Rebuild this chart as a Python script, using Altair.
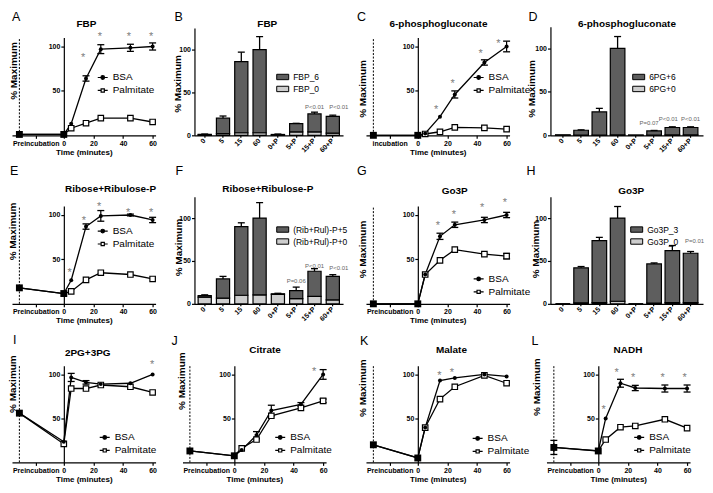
import altair as alt
import pandas as pd

FONT = "Liberation Sans"
DARK = "#5e5e5e"
LIGHT = "#cdcdcd"
STAR = "#808080"
PCOL = "#666666"

# ---------------- data ----------------
times = [-30, 0, 5, 15, 25, 45, 60]
cats = ["0", "5", "15", "60", "0+P", "5+P", "15+P", "60+P"]

# A  FBP (time course)
A_bsa = [1, 1, 13, 64, 97, 98.5, 100]
A_bsa_err = [0, 0, 0, 3, 5, 4, 4]
A_palm = [1, 1, 8, 13.6, 19.3, 19.3, 15]
A_palm_err = [0, 0, 0, 0, 0, 0, 0]
A_star_t = [13, 24.3, 44, 59]
A_star_v = [89, 112.6, 112.6, 112.6]

# C  6-phosphogluconate (time course)
C_bsa = [0, 0, 2, 21, 46, 82, 100]
C_bsa_err = [0, 0, 0, 0, 4, 3, 6]
C_palm = [0, 0, 1.5, 4, 9, 8.3, 7]
C_palm_err = [0, 0, 0, 0, 0, 0, 0]
C_star_t = [12.4, 23.6, 42.5, 54.4]
C_star_v = [31, 60.5, 93.6, 105]

# E  Ribose+Ribulose-P (time course)
E_bsa = [18, 11.6, 26.5, 87, 99, 100, 94.4]
E_bsa_err = [0, 0, 0, 3, 6, 1, 3]
E_palm = [18, 11.6, 14, 27, 35, 33, 28]
E_palm_err = [0, 0, 0, 0, 0, 0, 0]
E_star_t = [4, 13.5, 23.8, 43.4, 59]
E_star_v = [36.6, 95.5, 111.6, 104.9, 104.9]

# G  Go3P (time course)
G_bsa = [0, 0, 33, 76, 89, 94.4, 100]
G_bsa_err = [0, 0, 0, 3.5, 3, 3, 3]
G_palm = [0, 0, 33, 49, 61, 56, 53.7]
G_palm_err = [0, 0, 0, 0, 0, 0, 3]
G_star_t = [13.5, 24.3, 43.4, 58.9]
G_star_v = [89.6, 102.6, 110, 115.6]

# I  2PG+3PG
I_bsa = [56, 23.5, 96.6, 91, 89, 90, 100]
I_bsa_err = [0, 0, 4.6, 2, 0, 0, 0]
I_palm = [56, 21, 84, 84, 88, 86, 79.5]
I_palm_err = [0, 0, 0, 0, 0, 0, 0]
I_star_t = [59.6]
I_star_v = [113]

# J  Citrate
J_bsa = [13, 7.5, 14, 31, 59, 66, 100]
J_bsa_err = [0, 0, 0, 4, 6, 2, 5.5]
J_palm = [13, 7.5, 16, 26, 53, 62, 70]
J_palm_err = [0, 0, 0, 0, 0, 0, 2]
J_star_t = [54]
J_star_v = [104.5]

# K  Malate
K_bsa = [20, 5, 39.6, 93, 96, 100, 97.8]
K_bsa_err = [0, 0, 0, 0, 0, 0, 0]
K_palm = [20, 5, 39.6, 72, 86, 99, 90]
K_palm_err = [0, 0, 0, 0, 0, 0, 0]
K_star_t = [14.6, 23]
K_star_v = [100.7, 104.4]

# L  NADH
L_bsa = [17, 13, 50, 90, 84.6, 84, 84]
L_bsa_err = [8, 0, 0, 4.5, 3, 4, 4]
L_palm = [17, 13, 26, 40, 41.4, 49, 39]
L_palm_err = [0, 0, 0, 0, 0, 0, 0]
L_star_t = [3.6, 12.4, 23.6, 43.4, 58.4]
L_star_v = [61.3, 103.4, 98, 98, 98]

# B  FBP isotopologues
B_total = [1, 20, 86, 100, 1, 13.6, 25, 22]
B_light = [0.5, 2, 3, 3, 0.5, 4, 4, 2.5]
B_errhi = [1.5, 22.5, 97, 115, 1.5, 14, 27, 23.5]
B_p_cat = ["15+P", "60+P"]
B_p_val = [33.5, 33.5]
B_p_txt = ["P<0.01", "P<0.01"]

# D  6PG isotopologues
D_total = [0.5, 5.8, 27, 100, 0.3, 5, 9, 9]
D_light = [0.2, 0.3, 0.3, 0.5, 0.1, 0.3, 0.4, 0.4]
D_errhi = [0.7, 6.3, 31, 113.6, 0.5, 5.6, 9.8, 9.8]
D_p_cat = ["5+P", "15+P", "60+P"]
D_p_val = [14, 18.6, 18.6]
D_p_txt = ["P=0.07", "P<0.01", "P<0.01"]

# F  (Rib+Rul)-P isotopologues
F_total = [9.5, 29, 90, 100, 11.7, 15.5, 38, 32]
F_light = [7.8, 6.6, 10, 10.5, 11, 6, 8.6, 4.7]
F_errhi = [10.5, 32, 94.5, 118, 12.3, 19.5, 41, 34]
F_p_cat = ["5+P", "15+P", "60+P"]
F_p_val = [26.7, 43.8, 41.9]
F_p_txt = ["P=0.06", "P<0.01", "P<0.01"]

# H  Go3P isotopologues
H_total = [0, 42, 73.6, 100, 0, 46.5, 62, 59]
H_light = [0, 1.2, 1.5, 3, 0, 1, 1.5, 1.5]
H_errhi = [0, 43.5, 77.5, 113.5, 0, 47.7, 68, 61]
H_p_cat = ["60+P"]
H_p_val = [73.6]
H_p_txt = ["P=0.01"]

# ---------------- styling helpers ----------------
BSA_PATH = "M-1,0H1M0.36,0A0.36,0.36 0 1,1 -0.36,0A0.36,0.36 0 1,1 0.36,0Z"
PALM_PATH = "M-1,0H-0.32M0.32,0H1M-0.32,-0.32H0.32V0.32H-0.32Z"
RECT_PATH = "M-1,-0.45H1V0.45H-1Z"


def text_layer(txt, x, y, size, weight="normal", align="left", baseline="top"):
    return alt.Chart(pd.DataFrame({"s": [txt]})).mark_text(
        font=FONT, fontSize=size, fontWeight=weight, align=align,
        baseline=baseline, color="black"
    ).encode(text="s:N", x=alt.value(x), y=alt.value(y))


def line_panel(lay, bsa, bsa_err, palm, palm_err, star_t, star_v, shared_t):
    sh = lay.get("sh", 0)
    xs = alt.Scale(domain=[-35, 62], range=[-52 + sh, 92 + sh], nice=False, zero=False)
    ys = alt.Scale(domain=[0, 110], range=[lay["h"], lay["ytop"]], nice=False, zero=False)
    pre = lay["pre"]
    xa = alt.Axis(values=[-19, 0, 20, 40, 60],
                  labelExpr=f"datum.value == -19 ? '{pre}' : datum.label",
                  title="Time (minutes)", labelOverlap=False, labelFlush=False,
                  offset=lay["h"] - lay["H"],
                  tickSize=3, labelPadding=1, titlePadding=2, grid=False)
    ya = alt.Axis(values=[50, 100], title="% Maximum", titleX=lay["ytx"], titleY=lay["yty"],
                  titleAngle=270, titleAlign="center", titleBaseline="middle",
                  offset=-sh, titleFontSize=10, tickSize=3, labelPadding=1, grid=False)
    X = alt.X("t:Q", scale=xs, axis=xa)

    def Y(f):
        return alt.Y(f, type="quantitative", scale=ys, axis=ya)

    n = len(times)
    df = pd.DataFrame({
        "t": times * 2,
        "v": bsa + palm,
        "e": bsa_err + palm_err,
        "series": ["BSA"] * n + ["Palmitate"] * n,
    })
    df["lo"] = df["v"] - df["e"]
    df["hi"] = df["v"] + df["e"]

    layers = []
    layers.append(alt.Chart(pd.DataFrame({"t": [-30], "a": [0], "b": [110]})).mark_rule(
        color="black", strokeWidth=1, strokeDash=[2, 1.5]).encode(x=X, y=Y("a"), y2="b:Q"))
    layers.append(alt.Chart(df).mark_line(color="black", strokeWidth=1.3).encode(
        x=X, y=Y("v"), detail="series:N"))
    edf = df[df["e"] > 0]
    if len(edf):
        layers.append(alt.Chart(edf).mark_rule(color="black", strokeWidth=1.2).encode(
            x=X, y=Y("lo"), y2="hi:Q"))
        for f in ("lo", "hi"):
            layers.append(alt.Chart(edf).mark_tick(orient="horizontal", size=7, thickness=1.3,
                                                   color="black", opacity=1).encode(x=X, y=Y(f)))
    pal = df[(df["series"] == "Palmitate") & (~df["t"].isin(shared_t))]
    layers.append(alt.Chart(pal).mark_point(shape="square", size=30, filled=True, fill="white",
                                            stroke="black", strokeWidth=1.2, opacity=1).encode(
        x=X, y=Y("v")))
    bs = df[(df["series"] == "BSA") & (~df["t"].isin(shared_t))]
    layers.append(alt.Chart(bs).mark_point(shape="circle", size=16, filled=True, color="black",
                                           opacity=1).encode(x=X, y=Y("v")))
    shd = df[(df["series"] == "BSA") & (df["t"].isin(shared_t))]
    layers.append(alt.Chart(shd).mark_point(shape="square", size=48, filled=True, color="black",
                                            opacity=1).encode(x=X, y=Y("v")))
    sdf = pd.DataFrame({"t": star_t, "v": star_v})
    layers.append(alt.Chart(sdf).mark_text(text="*", font=FONT, fontSize=11, color=STAR,
                                           baseline="alphabetic", dy=5).encode(x=X, y=Y("v")))
    leg = alt.Legend(title=None, orient="none", legendX=lay["lgx"] + sh, legendY=lay["lgy"],
                     labelFont=FONT, labelFontSize=10, labelColor="black", symbolSize=100,
                     symbolStrokeWidth=1.2, rowPadding=2,
                     labelOffset=4, padding=0, symbolOpacity=1)
    dom = ["BSA", "Palmitate"]
    ldf = pd.DataFrame({"series": dom})
    layers.append(alt.Chart(ldf).transform_filter("false").mark_point(
        filled=True, opacity=1, strokeWidth=1.2).encode(
        shape=alt.Shape("series:N", scale=alt.Scale(domain=dom, range=[BSA_PATH, PALM_PATH]),
                        legend=leg),
        fill=alt.Fill("series:N", scale=alt.Scale(domain=dom, range=["black", "white"]),
                      legend=leg),
        stroke=alt.Stroke("series:N", scale=alt.Scale(domain=dom, range=["black", "black"]),
                          legend=leg)))
    layers.append(text_layer(lay["letter"], lay["lx"] + sh, lay["ly"], 12.5))
    layers.append(text_layer(lay["title"], lay["tx"] + sh, lay["ty"], 10, "bold", "center", "middle"))
    return alt.layer(*layers).properties(width=lay["w"], height=lay["H"])


def bar_panel(lay, total, light, errhi, p_cat, p_val, p_txt, p_dx, names):
    xs = alt.Scale(domain=cats, range=[0, lay["xr"]], paddingInner=lay["pi"],
                   paddingOuter=lay["po"])
    ys = alt.Scale(domain=[0, 125], range=[lay["h"], lay["ytop"]], nice=False, zero=False)
    xa = alt.Axis(title=None, labelAngle=-45, labelAlign="right", labelBaseline="middle",
                  offset=lay["h"] - lay["H"],
                  tickSize=2, labelPadding=2, labelOverlap=False, grid=False)
    ya = alt.Axis(values=[0, 50, 100], title="% Maximum", titleX=lay["ytx"], titleY=lay["yty"],
                  titleAngle=270, titleAlign="center", titleBaseline="middle",
                  titleFontSize=10, tickSize=3, labelPadding=1, grid=False)
    X = alt.X("cat:N", scale=xs, axis=xa, sort=cats)

    def Y(f, **kw):
        return alt.Y(f, type="quantitative", scale=ys, axis=ya, **kw)

    rows = []
    for c, tot, li in zip(cats, total, light):
        rows.append({"cat": c, "part": names[1], "value": li, "ord": 0})
        rows.append({"cat": c, "part": names[0], "value": tot - li, "ord": 1})
    df = pd.DataFrame(rows)
    leg = alt.Legend(title=None, orient="none", legendX=lay["lgx"], legendY=lay["lgy"],
                     labelFont=FONT, labelFontSize=8.5, labelColor="black",
                     symbolType=RECT_PATH, symbolSize=144,
                     symbolStrokeWidth=1, rowPadding=0, labelOffset=4, padding=0,
                     symbolOpacity=1)
    layers = []
    layers.append(alt.Chart(df).mark_bar(strokeWidth=1.2).encode(
        x=X, y=Y("value", stack="zero"),
        fill=alt.Fill("part:N", scale=alt.Scale(domain=names, range=[DARK, LIGHT]), legend=leg),
        stroke=alt.Stroke("part:N", scale=alt.Scale(domain=names, range=["black", "black"]),
                          legend=leg),
        order=alt.Order("ord:Q")))
    edf = pd.DataFrame({"cat": cats, "tot": total, "hi": errhi})
    edf = edf[edf["hi"] > edf["tot"] + 0.3]
    layers.append(alt.Chart(edf).mark_rule(color="black", strokeWidth=1.3).encode(
        x=X, y=Y("tot"), y2="hi:Q"))
    layers.append(alt.Chart(edf).mark_tick(orient="horizontal", size=7, thickness=1.3,
                                           color="black", opacity=1).encode(x=X, y=Y("hi")))
    for c, v, t, d in zip(p_cat, p_val, p_txt, p_dx):
        layers.append(alt.Chart(pd.DataFrame({"cat": [c], "v": [v], "s": [t]})).mark_text(
            font=FONT, fontSize=6, color=PCOL, dx=d, baseline="middle").encode(
            x=X, y=Y("v"), text="s:N"))
    layers.append(text_layer(lay["letter"], lay["lx"], lay["ly"], 12.5))
    layers.append(text_layer(lay["title"], lay["tx"], lay["ty"], 10, "bold", "center", "middle"))
    return alt.layer(*layers).properties(width=lay["w"], height=lay["H"])


# ---------------- layout (pixels, relative to each panel's frame / row top) ----------------
R1, R2, R3 = 161, 155, 139        # row pitch
W1, W2, W3, W4 = 131, 224, 133, 150  # column widths
LA = dict(letter="A", lx=-52, ly=2, title="FBP", tx=22.7, ty=15, pre="Preincubation",
          w=W1, H=R1, h=127, ytop=29, ytx=-50, yty=62, lgx=33, lgy=63)
LB = dict(letter="B", lx=-20, ly=2, title="FBP", tx=73, ty=15, xr=149, pi=0.28, po=0.2,
          w=W2, H=R1, h=127, ytop=19.5, ytx=-17, yty=75, lgx=82, lgy=62)
LC = dict(letter="C", lx=-61, ly=2, title="6-phosphogluconate", tx=20.7, ty=15, pre="incubation",
          w=W3, H=R1, h=127, ytop=29, ytx=-55.5, yty=80, lgx=55, lgy=63)
LD = dict(letter="D", lx=-22, ly=2, title="6-phosphogluconate", tx=76.7, ty=15, xr=153, pi=0.2,
          po=0.28, w=W4, H=R1, h=127, ytop=18, ytx=-19, yty=80, lgx=82, lgy=62)
LE = dict(letter="E", lx=-54, ly=-4, title="Ribose+Ribulose-P", tx=46.8, ty=20, pre="Preincubation",
          w=W1, H=R2, h=135, ytop=37, ytx=-51, yty=62, lgx=33, lgy=56)
LF = dict(letter="F", lx=-19, ly=-4, title="Ribose+Ribulose-P", tx=73.5, ty=20, xr=149, pi=0.28,
          po=0.2, w=W2, H=R2, h=135, ytop=27.5, ytx=-16, yty=78, lgx=82, lgy=54)
LG = dict(letter="G", lx=-61, ly=-4, title="Go3P", tx=37, ty=21.7, pre="Preincubation",
          w=W3, H=R2, h=135, ytop=37, ytx=-55, yty=80, lgx=55, lgy=104)
LH = dict(letter="H", lx=-24, ly=-4, title="Go3P", tx=81, ty=21.7, xr=153, pi=0.2, po=0.28,
          w=W4, H=R2, h=135, ytop=27.5, ytx=-15, yty=80, lgx=80, lgy=54)
LI = dict(letter="I", lx=-51, ly=10, title="2PG+3PG", tx=24, ty=29, pre="Preincubation",
          w=W1, H=R3, h=139, ytop=42, ytx=-51, yty=60, lgx=35, lgy=108)
LJ = dict(letter="J", lx=-63, ly=11, title="Citrate", tx=30.8, ty=26.7, pre="Preincubation",
          w=W2, H=R3, h=139, ytop=42, ytx=-53, yty=57, lgx=40, lgy=108, sh=40)
LK = dict(letter="K", lx=-58, ly=11, title="Malate", tx=33.7, ty=26.7, pre="Preincubation",
          w=W3, H=R3, h=139, ytop=42, ytx=-55, yty=64, lgx=54, lgy=109)
LL = dict(letter="L", lx=-67, ly=11, title="NADH", tx=29.7, ty=26.7, pre="Preincubation",
          w=W4, H=R3, h=139, ytop=42, ytx=-62, yty=63, lgx=35, lgy=108, sh=48)

pA = line_panel(LA, A_bsa, A_bsa_err, A_palm, A_palm_err, A_star_t, A_star_v, [-30, 0])
pB = bar_panel(LB, B_total, B_light, B_errhi, B_p_cat, B_p_val, B_p_txt, [0, 6], ["FBP_6", "FBP_0"])
pC = line_panel(LC, C_bsa, C_bsa_err, C_palm, C_palm_err, C_star_t, C_star_v, [-30, 0])
pD = bar_panel(LD, D_total, D_light, D_errhi, D_p_cat, D_p_val, D_p_txt, [-5, -4, 0],
               ["6PG+6", "6PG+0"])
pE = line_panel(LE, E_bsa, E_bsa_err, E_palm, E_palm_err, E_star_t, E_star_v, [-30, 0])
pF = bar_panel(LF, F_total, F_light, F_errhi, F_p_cat, F_p_val, F_p_txt, [0, 0, 6],
               ["(Rib+Rul)-P+5", "(Rib+Rul)-P+0"])
pG = line_panel(LG, G_bsa, G_bsa_err, G_palm, G_palm_err, G_star_t, G_star_v, [-30, 0])
pH = bar_panel(LH, H_total, H_light, H_errhi, H_p_cat, H_p_val, H_p_txt, [4], ["Go3P_3", "Go3P_0"])
pI = line_panel(LI, I_bsa, I_bsa_err, I_palm, I_palm_err, I_star_t, I_star_v, [-30])
pJ = line_panel(LJ, J_bsa, J_bsa_err, J_palm, J_palm_err, J_star_t, J_star_v, [-30, 0])
pK = line_panel(LK, K_bsa, K_bsa_err, K_palm, K_palm_err, K_star_t, K_star_v, [-30, 0])
pL = line_panel(LL, L_bsa, L_bsa_err, L_palm, L_palm_err, L_star_t, L_star_v, [-30, 0])

chart = alt.concat(pA, pB, pC, pD, pE, pF, pG, pH, pI, pJ, pK, pL,
                   columns=4, spacing=0, bounds="flush", align="each")
chart = chart.resolve_scale(fill="independent", shape="independent",
                            stroke="independent").resolve_legend(
    fill="independent", shape="independent", stroke="independent").properties(padding=0)

chart = chart.configure_view(stroke=None).configure_axis(
    labelFont=FONT, titleFont=FONT, labelFontWeight="bold", titleFontWeight="bold",
    labelFontSize=7, titleFontSize=8, labelColor="black", titleColor="black",
    domainColor="black", tickColor="black", domainWidth=1.2, tickWidth=1.2, grid=False
).configure_legend(labelFont=FONT, labelColor="black")

chart.save("out.html", embed_options={"renderer": "svg", "actions": False})
